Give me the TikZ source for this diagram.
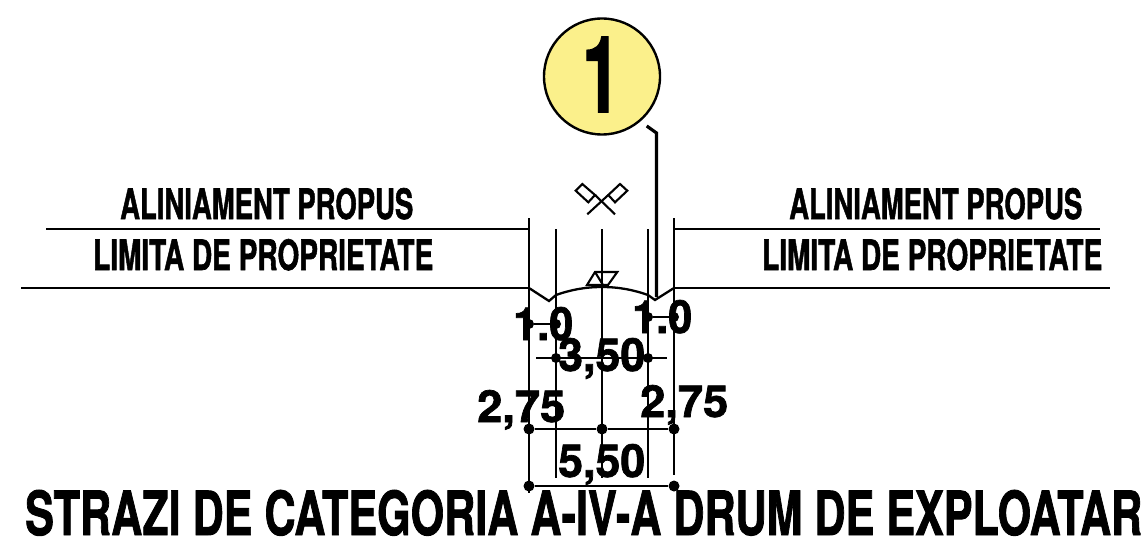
\documentclass[tikz,border=0pt]{standalone}
\usepackage{fontspec}
\usepackage{graphicx}
\setmainfont[BoldFeatures={FakeBold=1.6}]{TeX Gyre Heros}
\definecolor{badge}{HTML}{FBF08B}
\newcommand{\fitb}[3]{\resizebox{#1pt}{#2pt}{\bfseries #3}}
\tikzset{
  thin line/.style={line width=2.1pt,black},
  road/.style={line width=2.3pt,black},
  leader/.style={line width=3.2pt,black},
  dot/.style={circle,fill=black,inner sep=0pt,minimum size=11pt},
  lab/.style={inner sep=0pt,anchor=base west,text=black}
}
\begin{document}
\begin{tikzpicture}[x=1pt,y=-1pt]
\useasboundingbox (0,0) rectangle (1145,540);
% labels
\node[lab] (a1) at (120,219) {\fitb{293}{31}{ALINIAMENT PROPUS}};
\node[lab] (a2) at (789,219) {\fitb{293}{31}{ALINIAMENT PROPUS}};
\node[lab] (l1) at (93,270) {\fitb{340}{31}{LIMITA DE PROPRIETATE}};
\node[lab] (l2) at (762,270) {\fitb{340}{31}{LIMITA DE PROPRIETATE}};
% road lines
\draw[road] (46,229) -- (529,229);
\draw[road] (674,229) -- (1100,229);
\draw[road] (21,288) -- (529,288);
\draw[road] (674,288) -- (1110,288);
\draw[road] (529,288) -- (549,301) -- (556,295) .. controls (570,290) and (585,287) .. (602,287) .. controls (619,287) and (634,290) .. (648,295) -- (655,300) -- (674,288);
% verticals
\draw[thin line] (529,218) -- (529,493);
\draw[thin line] (556,229) -- (556,478);
\draw[thin line] (602,229) -- (602,478);
\draw[thin line] (648,229) -- (648,478);
\draw[thin line] (674,218) -- (674,475);
% cross symbol
\draw[thin line] (582.3,184) -- (575.7,190.7) -- (588.3,202.3) -- (595,195) -- cycle;
\draw[thin line] (620,184) -- (627.3,190.7) -- (615,202.3) -- (608.3,195) -- cycle;
\draw[thin line] (595,195) -- (615,214.3);
\draw[thin line] (608.3,195) -- (587.3,214.3);
% level symbol
\draw[thin line] (595,272) -- (617.3,272) -- (608,285) -- (587,285) -- cycle;
\draw[thin line] (595,272) -- (603,285);
% leader
\draw[leader] (646.7,126) -- (656.5,133) -- (656.5,297);
% dimension texts
\node[lab] (t1) at (513,340) {\fitb{60}{33}{1.0}};
\node[lab] (t2) at (632,333) {\fitb{60}{33}{1.0}};
\node[lab] (t3) at (558,371) {\fitb{87}{33}{3,50}};
\node[lab] (t4) at (477,422) {\fitb{88}{32}{2,75}};
\node[lab] (t5) at (640,417) {\fitb{88}{32}{2,75}};
\node[lab] (t6) at (558,477) {\fitb{87}{33}{5,50}};
% dimension dots and lines
\node[dot,minimum size=10pt] (d1a) at (529,324) {};
\node[dot,minimum size=10pt] (d1b) at (556,324) {};
\node[dot,minimum size=10pt] (d2a) at (648,317) {};
\node[dot,minimum size=10pt] (d2b) at (674,317) {};
\coordinate (e3a) at (536,358);
\coordinate (e3b) at (667,358);
\node[dot,minimum size=10pt] (d3a) at (556,358) {};
\node[dot,minimum size=10pt] (d3b) at (648,358) {};
\node[dot] (d4a) at (529,429) {};
\node[dot] (d4b) at (602,429) {};
\node[dot] (d4c) at (674,429) {};
\node[dot] (d5a) at (529,486) {};
\node[dot] (d5b) at (674,486) {};
\draw[thin line] (d1a) -- (d1b);
\draw[thin line] (d2a) -- (d2b);
\draw[thin line] (e3a) -- (e3b);
\draw[thin line] (d4a) -- (d4b) -- (d4c);
\draw[thin line] (d5a) -- (d5b);
% title
\node[lab] (title) at (25,535) {\fitb{1117}{45}{STRAZI DE CATEGORIA A-IV-A DRUM DE EXPLOATAR}};
% badge
\node[circle,draw=black,line width=2.4pt,fill=badge,minimum size=116pt,inner sep=0pt] (badge) at (602,76.5) {};
\node[lab] (one) at (582,112) {\fitb{38}{75}{1}};
\end{tikzpicture}
\end{document}
